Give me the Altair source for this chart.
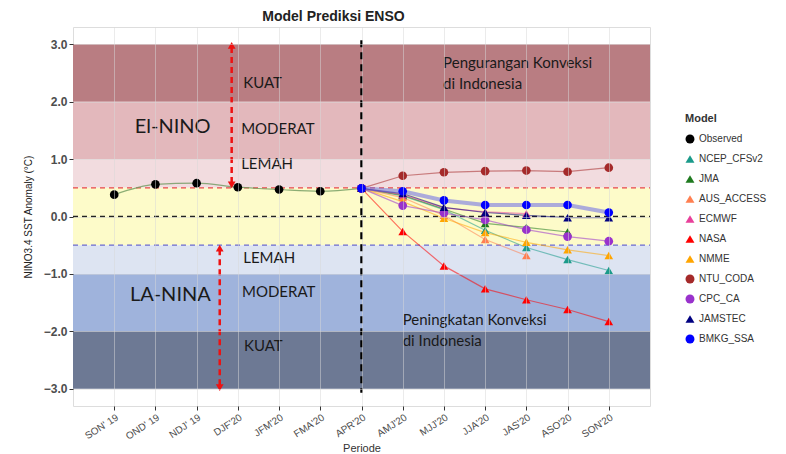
import json
import altair as alt
import pandas as pd

# ---------------- data ----------------
periods = ["SON' 19", "OND' 19", "NDJ' 19", "DJF'20", "JFM'20", "FMA'20", "APR'20",
           "AMJ'20", "MJJ'20", "JJA'20", "JAS'20", "ASO'20", "SON'20"]

observed = [0.38, 0.56, 0.58, 0.51, 0.47, 0.44, 0.49]

# forecasts: APR'20 .. SON'20
ncep_cfsv2 = [0.49, 0.36, 0.12, -0.24, -0.54, -0.75, -0.94]
jma        = [0.49, 0.37, 0.13, -0.12, -0.19, -0.27, None]
aus_access = [0.49, 0.33, 0.02, -0.40, -0.68, None, None]
ecmwf      = [0.49, 0.38, 0.15, 0.08, 0.05, None, None]
nasa       = [0.49, -0.26, -0.86, -1.26, -1.45, -1.62, -1.83]
nmme       = [0.49, 0.26, -0.03, -0.28, -0.45, -0.58, -0.68]
ntu_coda   = [0.49, 0.71, 0.77, 0.79, 0.80, 0.78, 0.85]
cpc_ca     = [0.49, 0.19, 0.06, -0.06, -0.23, -0.35, -0.43]
jamstec    = [0.49, 0.40, 0.16, 0.07, 0.02, -0.02, -0.02]
bmkg_ssa   = [0.49, 0.44, 0.28, 0.20, 0.20, 0.20, 0.07]

models = ["Observed", "NCEP_CFSv2", "JMA", "AUS_ACCESS", "ECMWF", "NASA", "NMME",
          "NTU_CODA", "CPC_CA", "JAMSTEC", "BMKG_SSA"]
model_colors = ["#000000", "#1a9a8a", "#1f7a1f", "#ff7f50", "#e8409a", "#ff0000",
                "#ffa500", "#a52a2a", "#9932cc", "#000080", "#0000ff"]
model_shapes = ["circle", "triangle-up", "triangle-up", "triangle-up", "triangle-up",
                "triangle-up", "triangle-up", "circle", "circle", "triangle-up", "circle"]

forecasts = {
    "NCEP_CFSv2": ncep_cfsv2, "JMA": jma, "AUS_ACCESS": aus_access, "ECMWF": ecmwf,
    "NASA": nasa, "NMME": nmme, "NTU_CODA": ntu_coda, "CPC_CA": cpc_ca,
    "JAMSTEC": jamstec, "BMKG_SSA": bmkg_ssa,
}

band_lo = [2.0, 1.0, 0.5, -0.5, -1.0, -2.0, -3.0]
band_hi = [3.0, 2.0, 1.0, 0.5, -0.5, -1.0, -2.0]
band_col = ["#b97d82", "#e3b8bc", "#f2dcdf", "#fdfbc9", "#dde4f2", "#9fb3dc", "#6d7994"]

hline_y = [0.5, 0.0, -0.5]
hline_col = ["#e8464a", "#222222", "#6a6ad0"]

labels_text = ["KUAT", "MODERAT", "LEMAH", "El-NINO", "LEMAH", "LA-NINA", "MODERAT", "KUAT",
               "Pengurangan Konveksi", "di Indonesia", "Peningkatan Konveksi", "di Indonesia"]
labels_x = [3.13, 3.08, 3.08, 0.5, 3.13, 0.38, 3.10, 3.15, 7.98, 7.98, 7.0, 7.0]
labels_y = [2.33, 1.52, 0.91, 1.55, -0.73, -1.36, -1.32, -2.26, 2.68, 2.31, -1.81, -2.16]
labels_size = [15, 15, 15, 20, 15, 20, 15, 15, 15, 15, 15, 15]

# ---------------- tables ----------------
color_of = dict(zip(models, model_colors))
rows = []
for i, v in enumerate(observed):
    rows.append({"model": "Observed", "idx": i, "val": v, "col": color_of["Observed"]})
for m, vals in forecasts.items():
    for j, v in enumerate(vals):
        if v is not None:
            rows.append({"model": m, "idx": 6 + j, "val": v, "col": color_of[m]})
pts = pd.DataFrame(rows)

bands = pd.DataFrame({"lo": band_lo, "hi": band_hi, "col": band_col})
hlines = pd.DataFrame({"y": hline_y, "col": hline_col})
ann = pd.DataFrame({"t": labels_text, "x": labels_x, "y": labels_y, "s": labels_size})

W, H = 577, 379
xscale = alt.Scale(domain=[-1, 13], nice=False, zero=False)
yscale = alt.Scale(domain=[-3.3, 3.3], nice=False, zero=False)

x_axis = alt.Axis(values=list(range(13)), labelExpr=json.dumps(periods) + "[datum.value]",
                  labelAngle=327, labelAlign="right", labelBaseline="top",
                  labelFontSize=10, labelColor="#4d4d4d", labelFont="Liberation Sans",
                  title="Periode", titleFontSize=11, titleFontWeight="normal",
                  titleColor="#333333", titleFont="Liberation Sans", titlePadding=1,
                  tickColor="#333333", tickSize=4, domain=False,
                  gridColor="#d8d8d8", gridOpacity=0.5, zindex=1)
y_axis = alt.Axis(values=[-3 + 0.5 * k for k in range(13)], format=".1f",
                  labelFontSize=12, labelFontWeight="bold", labelColor="#4d4d4d",
                  labelFont="Liberation Sans",
                  title="NINO3.4 SST Anomaly (°C)", titleFontSize=10,
                  titleFontWeight="normal", titleColor="#222222",
                  titleFont="Liberation Sans", titlePadding=10,
                  tickColor="#333333", tickSize=4, domain=False,
                  gridColor="#d8d8d8", gridOpacity=0.5, zindex=1)

base_x = alt.X("idx:Q", scale=xscale, axis=x_axis)

band_layer = alt.Chart(bands).mark_rect().encode(
    x=alt.value(0), x2=alt.value(W),
    y=alt.Y("lo:Q", scale=yscale, axis=y_axis), y2="hi:Q",
    color=alt.Color("col:N", scale=None),
)

hline_layer = alt.Chart(hlines).mark_rule(strokeDash=[5, 4], strokeWidth=1.3).encode(
    x=alt.value(0), x2=alt.value(W),
    y=alt.Y("y:Q", scale=yscale),
    color=alt.Color("col:N", scale=None),
)

vline_layer = alt.Chart(pd.DataFrame({"x": [6], "a": [3.07], "b": [-3.07]})).mark_rule(
    strokeDash=[7, 5], strokeWidth=2.5, color="#000000").encode(
    x=alt.X("x:Q", scale=xscale), y=alt.Y("a:Q", scale=yscale), y2="b:Q")

arrows = pd.DataFrame({"x": [2.85, 2.56], "a": [2.95, -0.57], "b": [0.57, -2.95]})
arrow_rule = alt.Chart(arrows).mark_rule(strokeDash=[6, 4], strokeWidth=2.5, color="#ee1111").encode(
    x=alt.X("x:Q", scale=xscale), y=alt.Y("a:Q", scale=yscale), y2="b:Q")
heads = pd.DataFrame({"x": [2.85, 2.85, 2.56, 2.56], "y": [2.98, 0.55, -0.55, -2.98],
                      "sh": ["triangle-up", "triangle-down", "triangle-up", "triangle-down"]})
arrow_heads = alt.Chart(heads).mark_point(filled=True, size=60, opacity=1, color="#ee1111").encode(
    x=alt.X("x:Q", scale=xscale), y=alt.Y("y:Q", scale=yscale),
    shape=alt.Shape("sh:N", scale=None))

fc = pts[(pts["model"] != "Observed") & (pts["model"] != "BMKG_SSA")]
fc_lines = alt.Chart(fc).mark_line(strokeWidth=1.2, strokeOpacity=0.55).encode(
    x=alt.X("idx:Q", scale=xscale), y=alt.Y("val:Q", scale=yscale),
    detail="model:N", color=alt.Color("col:N", scale=None))

bmkg_line = alt.Chart(pts[pts["model"] == "BMKG_SSA"]).mark_line(
    strokeWidth=4, strokeOpacity=0.55, color="#6a6ae8").encode(
    x=alt.X("idx:Q", scale=xscale), y=alt.Y("val:Q", scale=yscale))

obs_line = alt.Chart(pts[pts["model"] == "Observed"]).mark_line(
    strokeWidth=1.2, strokeOpacity=0.8, color="#6f9a5f", interpolate="monotone").encode(
    x=alt.X("idx:Q", scale=xscale), y=alt.Y("val:Q", scale=yscale))

legend = alt.Legend(title="Model", orient="none", legendX=612, legendY=86,
                    titleFontSize=11, titleFontWeight="bold", titleColor="#333333",
                    titleFont="Liberation Sans", labelFont="Liberation Sans",
                    labelFontSize=10, labelColor="#333333", symbolSize=80,
                    symbolOpacity=1, rowPadding=10, titlePadding=10, symbolStrokeWidth=0)

point_layer = alt.Chart(pts).mark_point(filled=True, size=75, opacity=1, fillOpacity=1).encode(
    x=base_x, y=alt.Y("val:Q", scale=yscale),
    color=alt.Color("model:N", scale=alt.Scale(domain=models, range=model_colors), legend=legend),
    shape=alt.Shape("model:N", scale=alt.Scale(domain=models, range=model_shapes), legend=legend),
)

text_layer = alt.Chart(ann).mark_text(align="left", baseline="middle", font="Lato",
                                      color="#1a1a1a").encode(
    x=alt.X("x:Q", scale=xscale), y=alt.Y("y:Q", scale=yscale),
    text="t:N", size=alt.Size("s:Q", scale=None))

chart = alt.layer(
    band_layer, hline_layer, vline_layer, fc_lines, bmkg_line, obs_line,
    point_layer, arrow_rule, arrow_heads, text_layer,
).properties(
    width=W, height=H,
    title=alt.TitleParams("Model Prediksi ENSO", fontSize=14, font="Liberation Sans",
                          fontWeight="bold", anchor="middle", dx=-28, offset=3,
                          color="#222222"),
    padding={"left": 15, "top": 2, "right": 5, "bottom": 2},
).configure_view(stroke="#333333", strokeWidth=1.2).configure(background="white")

chart.save("out.html", embed_options={"renderer": "svg", "actions": False})
